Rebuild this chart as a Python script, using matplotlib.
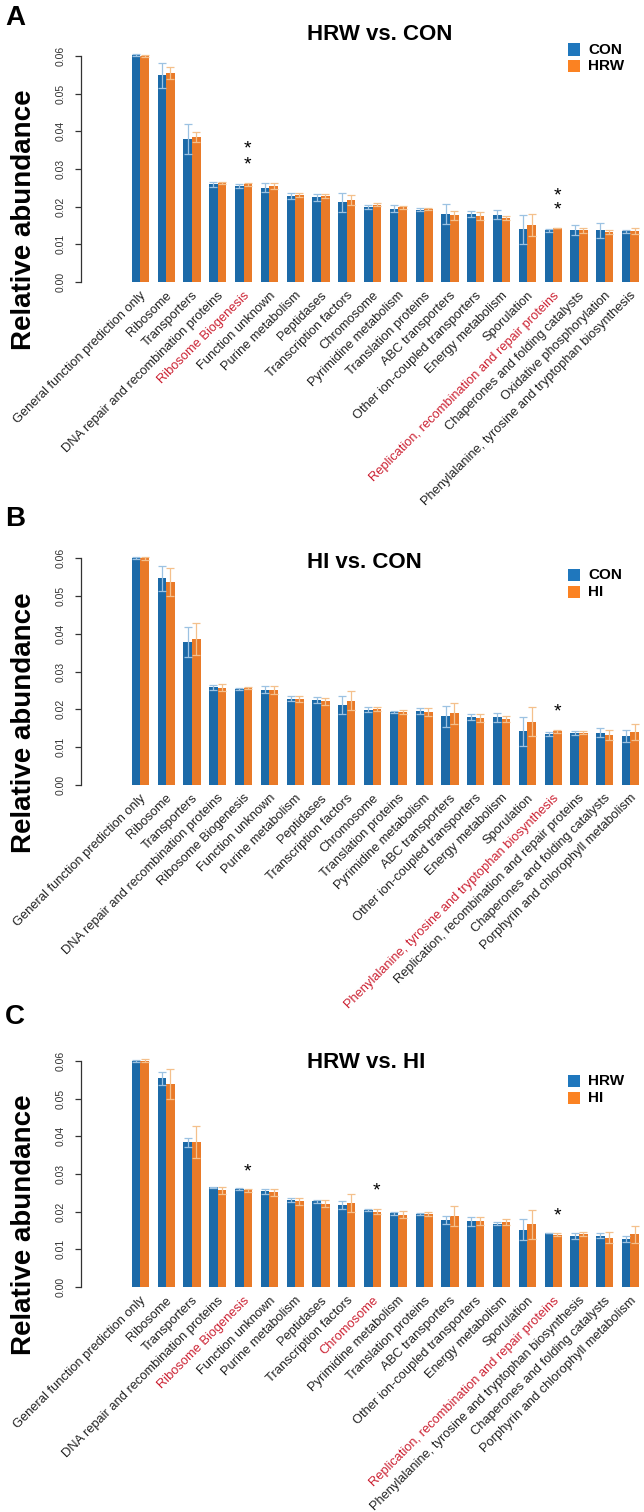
import matplotlib
matplotlib.use("Agg")
import matplotlib.pyplot as plt
from matplotlib.patches import Rectangle
import numpy as np

plt.rcParams['font.family'] = ['Liberation Sans', 'DejaVu Sans']

# -----------------------------
# Data
# -----------------------------
labels_a = ["General function prediction only", "Ribosome", "Transporters",
            "DNA repair and recombination proteins", "Ribosome Biogenesis",
            "Function unknown", "Purine metabolism", "Peptidases",
            "Transcription factors", "Chromosome", "Pyrimidine metabolism",
            "Translation proteins", "ABC transporters",
            "Other ion-coupled transporters", "Energy metabolism", "Sporulation",
            "Replication, recombination and repair proteins",
            "Chaperones and folding catalysts", "Oxidative phosphorylation",
            "Phenylalanine, tyrosine and tryptophan biosynthesis"]
red_a = ["Ribosome Biogenesis", "Replication, recombination and repair proteins"]
con_a = [0.0603, 0.0548, 0.0380, 0.0259, 0.0254, 0.0250, 0.0228, 0.0225, 0.0211, 0.0199,
         0.0194, 0.0192, 0.0181, 0.0180, 0.0178, 0.0140, 0.0137, 0.0138, 0.0137, 0.0134]
con_a_err = [0.0003, 0.0033, 0.0040, 0.0007, 0.0005, 0.0012, 0.0008, 0.0009, 0.0024, 0.0006,
             0.0009, 0.0004, 0.0026, 0.0008, 0.0012, 0.0039, 0.0004, 0.0013, 0.0019, 0.0005]
hrw_a = [0.0599, 0.0555, 0.0384, 0.0263, 0.0259, 0.0255, 0.0230, 0.0228, 0.0217, 0.0205,
         0.0198, 0.0193, 0.0177, 0.0175, 0.0170, 0.0152, 0.0143, 0.0137, 0.0132, 0.0135]
hrw_a_err = [0.0002, 0.0016, 0.0013, 0.0002, 0.0004, 0.0008, 0.0005, 0.0005, 0.0013, 0.0004,
             0.0004, 0.0002, 0.0012, 0.0010, 0.0005, 0.0029, 0.0001, 0.0006, 0.0006, 0.0008]
star_grp_a = [4, 4, 16, 16]
star_val_a = [0.0361, 0.0319, 0.0237, 0.0200]

labels_b = ["General function prediction only", "Ribosome", "Transporters",
            "DNA repair and recombination proteins", "Ribosome Biogenesis",
            "Function unknown", "Purine metabolism", "Peptidases",
            "Transcription factors", "Chromosome", "Translation proteins",
            "Pyrimidine metabolism", "ABC transporters",
            "Other ion-coupled transporters", "Energy metabolism", "Sporulation",
            "Phenylalanine, tyrosine and tryptophan biosynthesis",
            "Replication, recombination and repair proteins",
            "Chaperones and folding catalysts", "Porphyrin and chlorophyll metabolism"]
red_b = ["Phenylalanine, tyrosine and tryptophan biosynthesis"]
con_b = [0.0602, 0.0547, 0.0379, 0.0258, 0.0253, 0.0252, 0.0228, 0.0225, 0.0211, 0.0199,
         0.0193, 0.0194, 0.0181, 0.0180, 0.0178, 0.0141, 0.0134, 0.0137, 0.0138, 0.0129]
con_b_err = [0.0003, 0.0033, 0.0040, 0.0007, 0.0003, 0.0010, 0.0007, 0.0008, 0.0024, 0.0007,
             0.0003, 0.0008, 0.0027, 0.0008, 0.0012, 0.0038, 0.0005, 0.0005, 0.0013, 0.0017]
hi_b = [0.0600, 0.0537, 0.0386, 0.0257, 0.0256, 0.0251, 0.0227, 0.0221, 0.0223, 0.0201,
        0.0193, 0.0192, 0.0189, 0.0176, 0.0173, 0.0167, 0.0141, 0.0138, 0.0132, 0.0140]
hi_b_err = [0.0004, 0.0038, 0.0042, 0.0010, 0.0003, 0.0010, 0.0009, 0.0009, 0.0024, 0.0006,
            0.0005, 0.0010, 0.0027, 0.0011, 0.0008, 0.0038, 0.0005, 0.0005, 0.0014, 0.0022]
star_grp_b = [16]
star_val_b = [0.0200]

labels_c = ["General function prediction only", "Ribosome", "Transporters",
            "DNA repair and recombination proteins", "Ribosome Biogenesis",
            "Function unknown", "Purine metabolism", "Peptidases",
            "Transcription factors", "Chromosome", "Pyrimidine metabolism",
            "Translation proteins", "ABC transporters",
            "Other ion-coupled transporters", "Energy metabolism", "Sporulation",
            "Replication, recombination and repair proteins",
            "Phenylalanine, tyrosine and tryptophan biosynthesis",
            "Chaperones and folding catalysts", "Porphyrin and chlorophyll metabolism"]
red_c = ["Ribosome Biogenesis", "Chromosome",
         "Replication, recombination and repair proteins"]
hrw_c = [0.0599, 0.0554, 0.0384, 0.0264, 0.0259, 0.0254, 0.0230, 0.0228, 0.0217, 0.0205,
         0.0196, 0.0193, 0.0178, 0.0174, 0.0168, 0.0152, 0.0143, 0.0134, 0.0136, 0.0127]
hrw_c_err = [0.0002, 0.0017, 0.0012, 0.0002, 0.0003, 0.0006, 0.0005, 0.0004, 0.0011, 0.0003,
             0.0004, 0.0002, 0.0010, 0.0011, 0.0004, 0.0028, 0.0001, 0.0008, 0.0006, 0.0007]
hi_c = [0.0600, 0.0538, 0.0385, 0.0256, 0.0256, 0.0251, 0.0227, 0.0221, 0.0223, 0.0200,
        0.0192, 0.0193, 0.0189, 0.0176, 0.0172, 0.0166, 0.0138, 0.0141, 0.0131, 0.0140]
hi_c_err = [0.0004, 0.0039, 0.0042, 0.0010, 0.0003, 0.0010, 0.0009, 0.0009, 0.0024, 0.0006,
            0.0010, 0.0005, 0.0027, 0.0011, 0.0008, 0.0038, 0.0004, 0.0005, 0.0014, 0.0022]
star_grp_c = [4, 9, 16]
star_val_c = [0.0313, 0.0263, 0.0196]

yticks = [0.00, 0.01, 0.02, 0.03, 0.04, 0.05, 0.06]

# -----------------------------
# Styling
# -----------------------------
W, H = 644, 1512
BLUE, ORANGE = "#1c6aa8", "#e97a28"
BLUE_ERR, ORANGE_ERR = "#9cc2e2", "#f4c08c"
LEG_BLUE, LEG_ORANGE = "#1f77bd", "#fb8222"
RED = "#cc2233"
TXT = "#222222"

fig = plt.figure(figsize=(W / 100, H / 100), dpi=100)


def fy(py):
    return 1 - py / H


def draw_panel(letter, letter_y, title, title_y, zero_px, names, leg_y,
               labels, reds, v1, e1, v2, e2, sgrp, sval):
    ax = fig.add_axes([81 / W, 1 - zero_px / H, (W - 81) / W, 245.05 / H])
    n = len(labels)
    grp = 3 * np.arange(n)
    ax.bar(grp + 1.5, v1, width=1, color=BLUE, linewidth=0)
    ax.bar(grp + 2.5, v2, width=1, color=ORANGE, linewidth=0)
    ax.errorbar(grp + 1.5, v1, yerr=e1, fmt='none', ecolor=BLUE_ERR,
                elinewidth=0.9, capsize=3.2, capthick=0.9)
    ax.errorbar(grp + 2.5, v2, yerr=e2, fmt='none', ecolor=ORANGE_ERR,
                elinewidth=0.9, capsize=3.2, capthick=0.9)
    ax.set_xlim(-4.9, 60.57)
    ax.set_ylim(0, 0.065)

    for s in ['top', 'right', 'bottom']:
        ax.spines[s].set_visible(False)
    ax.spines['left'].set_bounds(0, 0.06)
    ax.spines['left'].set_color('#333333')
    ax.spines['left'].set_linewidth(0.9)
    ax.set_xticks([])
    ax.set_yticks(yticks)
    ax.set_yticklabels([f"{t:.2f}" for t in yticks], rotation=90, va='center')
    ax.tick_params(axis='y', length=4.3, width=0.9, pad=6.5, labelsize=7.5,
                   color='#333333', labelcolor='#333333')
    ax.patch.set_visible(False)

    # rotated category labels
    for i, lab in enumerate(labels):
        ax.text(3 * i + 2 + 0.45, -0.0031, lab, rotation=45, ha='right', va='center',
                rotation_mode='anchor', fontsize=9.3,
                color=RED if lab in reds else TXT, clip_on=False)

    # significance stars (glyph sits high in its box, nudge down)
    for g, v in zip(sgrp, sval):
        ax.text(3 * g + 2.5, v - 0.0008, '*', ha='center', va='center', fontsize=14,
                color='black', clip_on=False)

    fig.text(5 / W, fy(letter_y), letter, fontsize=20, fontweight='bold',
             ha='left', va='center')
    fig.text(307 / W, fy(title_y), title, fontsize=16, fontweight='bold',
             ha='left', va='center')
    fig.text(24 / W, fy(zero_px - 62), 'Relative abundance', rotation=90,
             fontsize=20, fontweight='bold', ha='center', va='center')

    # legend
    for name, col, cy in zip(names, [LEG_BLUE, LEG_ORANGE], leg_y):
        fig.add_artist(Rectangle((567.7 / W, fy(cy + 6.2)), 12.4 / W, 12.4 / H,
                                 transform=fig.transFigure, color=col, lw=0))
        fig.text(588 / W, fy(cy), name, fontsize=11, fontweight='bold',
                 ha='left', va='center')
    return ax


draw_panel('A', 18, 'HRW vs. CON', 35, 282, ['CON', 'HRW'], [49.5, 66],
           labels_a, red_a, con_a, con_a_err, hrw_a, hrw_a_err, star_grp_a, star_val_a)
draw_panel('B', 519, 'HI vs. CON', 563, 784.6, ['CON', 'HI'], [575, 592],
           labels_b, red_b, con_b, con_b_err, hi_b, hi_b_err, star_grp_b, star_val_b)
draw_panel('C', 1017, 'HRW vs. HI', 1063, 1287, ['HRW', 'HI'], [1081, 1098],
           labels_c, red_c, hrw_c, hrw_c_err, hi_c, hi_c_err, star_grp_c, star_val_c)

fig.savefig('out.png', dpi=100)
